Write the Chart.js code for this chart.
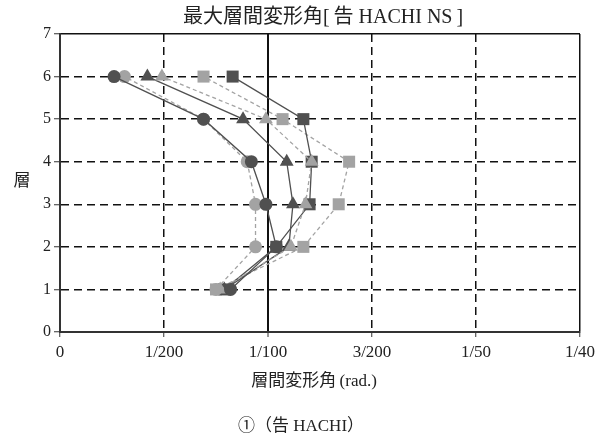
<!DOCTYPE html>
<html>
<head>
<meta charset="utf-8">
<script src="https://cdn.jsdelivr.net/npm/chart.js@4.4.1/dist/chart.umd.min.js"></script>
<style>
  html, body { margin: 0; padding: 0; background: #fff; }
  #wrap { width: 601px; height: 442px; position: relative; }
</style>
</head>
<body>
<div id="wrap"><canvas id="grafica"></canvas></div>
<script>
// 層 (1..6)
const niveles = [1, 2, 3, 4, 5, 6];

// 最大層間変形角 (rad.)
const circuloOscuro = [0.0082, 0.0104, 0.0099, 0.0092, 0.0069, 0.0026];
const circuloClaro = [0.0075, 0.0094, 0.0094, 0.0090, 0.0069, 0.0031];
const trianguloOscuro = [0.0079, 0.0110, 0.0112, 0.0109, 0.0088, 0.0042];
const trianguloClaro = [0.0077, 0.0111, 0.0118, 0.0121, 0.0099, 0.0049];
const cuadradoOscuro = [0.0079, 0.0104, 0.0120, 0.0121, 0.0117, 0.0083];
const cuadradoClaro = [0.0075, 0.0117, 0.0134, 0.0139, 0.0107, 0.0069];

// etiquetas del eje x
const ticksX = [0, 0.005, 0.01, 0.015, 0.02, 0.025];
const etiquetasX = ['0', '1/200', '1/100', '3/200', '1/50', '1/40'];

const titulo = '最大層間変形角[\u2009告 HACHI NS\u2009]';
const tituloX = '層間変形角\u2009(rad.)';
const tituloY = '層';
const pie = '①（告 HACHI）';

const OSCURO = '#505050';
const CLARO = '#a3a3a3';
const FUENTE = "'Liberation Serif', 'Noto Sans CJK JP', serif";

function serie(nombre, valores, color, forma, radio, punteada) {
  return {
    label: nombre,
    data: valores.map((v, i) => ({ x: v, y: niveles[i] })),
    showLine: true,
    borderColor: color,
    backgroundColor: color,
    pointBackgroundColor: color,
    pointBorderColor: color,
    pointStyle: forma,
    pointRadius: radio,
    pointBorderWidth: 0,
    borderWidth: 1.3,
    borderDash: punteada ? [4, 3] : []
  };
}

// el primer dataset se dibuja encima
const datasets = [
  serie('circulo oscuro', circuloOscuro, OSCURO, 'circle', 6.5, false),
  serie('circulo claro', circuloClaro, CLARO, 'circle', 6.5, true),
  serie('triangulo claro', trianguloClaro, CLARO, 'triangle', 8, true),
  serie('triangulo oscuro', trianguloOscuro, OSCURO, 'triangle', 8, false),
  serie('cuadrado oscuro', cuadradoOscuro, OSCURO, 'rect', 8.5, false),
  serie('cuadrado claro', cuadradoClaro, CLARO, 'rect', 8.5, true)
];

// líneas sólidas en los bordes y en 1/100
function esSolida(valor, scale) {
  return valor === scale.min || valor === scale.max || Math.abs(valor - 0.01) < 1e-9;
}

// textos fuera de los ejes
const textos = {
  id: 'textos',
  afterDraw(chart) {
    const { ctx, chartArea } = chart;
    const cx = (chartArea.left + chartArea.right) / 2;
    ctx.save();
    ctx.fillStyle = '#222';
    ctx.textAlign = 'center';
    ctx.textBaseline = 'middle';
    ctx.font = '20px ' + FUENTE;
    ctx.fillText(titulo, cx + 3, 18);
    ctx.font = '17px ' + FUENTE;
    ctx.fillText(tituloX, cx - 6, 382);
    ctx.fillText(tituloY, 22, 182);
    ctx.fillText(pie, 301, 427);
    ctx.restore();
  }
};

new Chart(document.getElementById('grafica'), {
  type: 'scatter',
  data: { datasets: datasets },
  options: {
    responsive: true,
    maintainAspectRatio: false,
    animation: false,
    layout: { padding: { top: 34, right: 21, left: 0, bottom: 0 } },
    plugins: {
      legend: { display: false },
      tooltip: { enabled: false }
    },
    scales: {
      x: {
        type: 'linear',
        min: 0,
        max: 0.025,
        afterFit: (scale) => { scale.height = 110; },
        afterBuildTicks: (scale) => { scale.ticks = ticksX.map(v => ({ value: v })); },
        ticks: {
          color: '#222',
          font: { family: FUENTE, size: 17 },
          padding: 5,
          maxRotation: 0,
          callback: (v) => {
            const i = ticksX.findIndex(t => Math.abs(t - v) < 1e-9);
            return i >= 0 ? etiquetasX[i] : '';
          }
        },
        grid: {
          color: '#111',
          lineWidth: (c) => (c.tick && Math.abs(c.tick.value - 0.01) < 1e-9) ? 2 : 1.5,
          tickLength: 5,
          tickColor: '#333',
          tickWidth: 1,
          tickBorderDash: []
        },
        border: {
          display: true,
          color: '#333',
          width: 2,
          dash: (c) => (c.tick && !esSolida(c.tick.value, c.scale)) ? [8, 5] : []
        }
      },
      y: {
        type: 'linear',
        min: 0,
        max: 7,
        afterFit: (scale) => { scale.width = 60; },
        ticks: {
          stepSize: 1,
          color: '#222',
          font: { family: FUENTE, size: 16 },
          padding: 3
        },
        grid: {
          color: '#111',
          lineWidth: 1.5,
          tickLength: 6,
          tickColor: '#333',
          tickWidth: 1,
          tickBorderDash: []
        },
        border: {
          display: true,
          color: '#333',
          width: 2,
          dash: (c) => (c.tick && !esSolida(c.tick.value, c.scale)) ? [8, 5] : []
        }
      }
    }
  },
  plugins: [textos]
});
</script>
</body>
</html>
